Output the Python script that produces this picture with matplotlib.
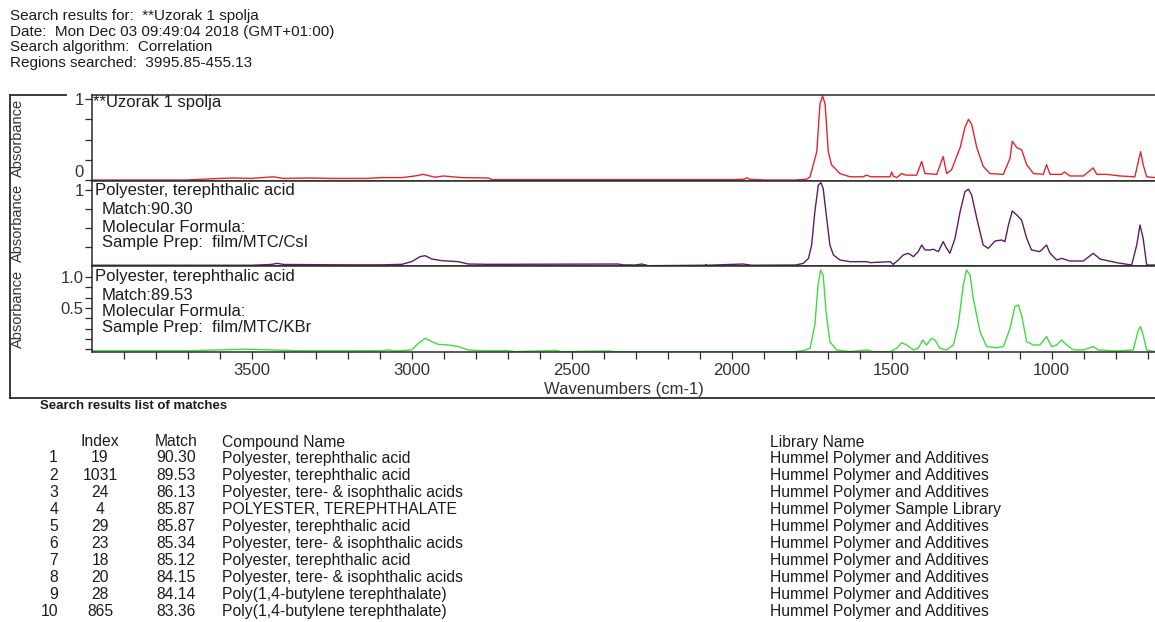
import matplotlib
matplotlib.use("Agg")
import matplotlib.pyplot as plt
from matplotlib.lines import Line2D

plt.rcParams['font.family'] = ['Liberation Sans', 'DejaVu Sans']

# search report header
header_lines = [
    "Search results for:  **Uzorak 1 spolja",
    "Date:  Mon Dec 03 09:49:04 2018 (GMT+01:00)",
    "Search algorithm:  Correlation",
    "Regions searched:  3995.85-455.13",
]

# sample spectrum (wavenumber, absorbance)
sample_wn = [3999, 3704, 3600, 3558, 3500, 3433, 3402, 3319, 3250, 3142, 3094, 3031,
             2990, 2964, 2927, 2901, 2844, 2760, 2750, 2400, 2000, 1960, 1953, 1945,
             1896, 1800, 1766, 1755, 1734, 1724, 1716, 1708, 1698, 1688, 1662, 1630,
             1590, 1578, 1565, 1505, 1500, 1495, 1484, 1469, 1455, 1443, 1422, 1406,
             1396, 1359, 1339, 1328, 1313, 1286, 1271, 1260, 1250, 1234, 1214, 1193,
             1151, 1130, 1123, 1109, 1094, 1078, 1057, 1026, 1016, 1005, 969, 960,
             943, 901, 870, 859, 828, 786, 740, 729, 722, 714, 703, 677]
sample_abs = [0.0, 0.0, 0.02, 0.025, 0.02, 0.04, 0.02, 0.025, 0.02, 0.02, 0.03, 0.03,
              0.05, 0.07, 0.035, 0.05, 0.03, 0.025, 0.005, 0.005, 0.005, 0.01, 0.03, 0.01,
              0.0, 0.0, 0.01, 0.04, 0.35, 0.94, 1.04, 0.94, 0.35, 0.19, 0.08, 0.04,
              0.04, 0.06, 0.04, 0.04, 0.1, 0.05, 0.03, 0.08, 0.06, 0.06, 0.06, 0.23,
              0.08, 0.07, 0.29, 0.08, 0.125, 0.40, 0.65, 0.75, 0.69, 0.40, 0.17, 0.08,
              0.07, 0.27, 0.48, 0.40, 0.375, 0.19, 0.08, 0.07, 0.19, 0.07, 0.07, 0.10,
              0.05, 0.05, 0.15, 0.07, 0.07, 0.05, 0.04, 0.23, 0.35, 0.19, 0.04, 0.03]

# library hit 1 (CsI)
hit1_wn = [3999, 3500, 3440, 3420, 3400, 3200, 3094, 3031, 3000, 2974, 2958, 2937,
           2906, 2854, 2823, 2760, 2354, 2340, 2300, 2281, 2260, 2083, 2080, 2075,
           1964, 1937, 1800, 1776, 1760, 1750, 1740, 1729, 1721, 1714, 1703, 1693,
           1682, 1662, 1630, 1578, 1567, 1505, 1495, 1479, 1464, 1448, 1432, 1417,
           1406, 1396, 1380, 1370, 1354, 1339, 1328, 1318, 1302, 1286, 1271, 1260,
           1250, 1234, 1214, 1198, 1177, 1156, 1146, 1135, 1123, 1109, 1094, 1078,
           1063, 1037, 1016, 1005, 984, 969, 943, 901, 870, 849, 797, 750,
           734, 724, 714, 703, 677]
hit1_abs = [0.01, 0.01, 0.02, 0.035, 0.02, 0.015, 0.015, 0.022, 0.057, 0.123, 0.136, 0.092,
            0.07, 0.057, 0.026, 0.022, 0.026, 0.015, 0.013, 0.026, 0.004, 0.01, 0.02, 0.01,
            0.026, 0.01, 0.013, 0.035, 0.10, 0.276, 0.715, 1.066, 1.096, 1.02, 0.627, 0.276,
            0.145, 0.079, 0.057, 0.057, 0.044, 0.057, 0.022, 0.079, 0.145, 0.167, 0.123, 0.189,
            0.276, 0.211, 0.211, 0.22, 0.189, 0.32, 0.232, 0.167, 0.364, 0.715, 0.978, 1.01,
            0.934, 0.627, 0.276, 0.232, 0.329, 0.342, 0.32, 0.54, 0.724, 0.671, 0.605, 0.364,
            0.211, 0.189, 0.276, 0.167, 0.079, 0.10, 0.066, 0.066, 0.167, 0.092, 0.044, 0.013,
            0.276, 0.54, 0.364, 0.013, 0.013]

# library hit 2 (KBr)
hit2_wn = [3999, 3700, 3600, 3520, 3450, 3350, 3200, 3094, 3073, 3052, 3000, 2979,
           2958, 2937, 2917, 2885, 2854, 2823, 2781, 2698, 2677, 2573, 2552, 2531,
           2385, 2365, 1800, 1776, 1755, 1740, 1730, 1722, 1714, 1705, 1693, 1672,
           1630, 1578, 1557, 1505, 1484, 1469, 1453, 1432, 1417, 1403, 1391, 1375,
           1365, 1349, 1328, 1307, 1292, 1276, 1266, 1255, 1245, 1224, 1203, 1172,
           1151, 1130, 1115, 1104, 1094, 1078, 1057, 1037, 1016, 1000, 984, 969,
           953, 932, 901, 870, 854, 797, 745, 729, 722, 714, 703, 677]
hit2_abs = [-0.19, -0.19, -0.175, -0.165, -0.175, -0.19, -0.19, -0.188, -0.177, -0.193, -0.177, -0.07,
            0.011, -0.043, -0.086, -0.097, -0.124, -0.177, -0.188, -0.188, -0.204, -0.188, -0.183, -0.204,
            -0.193, -0.204, -0.204, -0.188, -0.15, 0.226, 0.871, 1.113, 1.032, 0.441, -0.043, -0.177,
            -0.204, -0.177, -0.204, -0.204, -0.15, -0.06, -0.097, -0.177, -0.15, -0.016, -0.097, 0.011,
            -0.016, -0.15, -0.177, -0.097, 0.226, 0.871, 1.113, 1.032, 0.656, 0.118, -0.124, -0.14,
            -0.124, 0.172, 0.522, 0.548, 0.387, -0.043, -0.097, -0.097, 0.038, -0.124, -0.097, -0.016,
            -0.097, -0.177, -0.177, -0.124, -0.177, -0.193, -0.177, 0.145, 0.199, 0.065, -0.177, -0.204]

# hit list
row_no = ["1", "2", "3", "4", "5", "6", "7", "8", "9", "10"]
hit_index = ["19", "1031", "24", "4", "29", "23", "18", "20", "28", "865"]
hit_match = ["90.30", "89.53", "86.13", "85.87", "85.87", "85.34", "85.12", "84.15", "84.14", "83.36"]
compound = ["Polyester, terephthalic acid", "Polyester, terephthalic acid",
            "Polyester, tere- & isophthalic acids", "POLYESTER, TEREPHTHALATE",
            "Polyester, terephthalic acid", "Polyester, tere- & isophthalic acids",
            "Polyester, terephthalic acid", "Polyester, tere- & isophthalic acids",
            "Poly(1,4-butylene terephthalate)", "Poly(1,4-butylene terephthalate)"]
library = ["Hummel Polymer and Additives"] * 3 + ["Hummel Polymer Sample Library"] + \
          ["Hummel Polymer and Additives"] * 6

W, H = 1155, 622
fig = plt.figure(figsize=(W / 100, H / 100), dpi=100)
fig.patch.set_facecolor('white')
ink = '#1c1c1c'
axc = '#2a2a2a'


def fx(x):
    return x / W


def fy(y):
    return 1 - y / H


for i, line in enumerate(header_lines):
    fig.text(fx(10), fy(16 + 15.7 * i), line, fontsize=11, color=ink, va='center')

# outer frame round the plot
frame_kw = dict(transform=fig.transFigure, color=axc, lw=1.3)
fig.add_artist(Line2D([fx(10), fx(66)], [fy(95), fy(95)], **frame_kw))
fig.add_artist(Line2D([fx(10), fx(10)], [fy(95), fy(398)], **frame_kw))
fig.add_artist(Line2D([fx(10), 1.0], [fy(398), fy(398)], **frame_kw))

panels = [(95, 181), (181, 266), (266, 352)]
series = [(sample_wn, sample_abs, '#e3262e'),
          (hit1_wn, hit1_abs, '#5c1d62'),
          (hit2_wn, hit2_abs, '#3fdc3f')]
ylims = [(-0.012, 1.05), (0.0, 1.118), (-0.21, 1.177)]

axes = []
for (top, bot), (wn, ab, col), yl in zip(panels, series, ylims):
    ax = fig.add_axes([fx(92), fy(bot), 1 - fx(92), (bot - top) / H])
    ax.plot(wn, ab, color=col, lw=1.0)
    ax.set_xlim(3999, 677)
    ax.set_ylim(*yl)
    ax.spines['right'].set_visible(False)
    for s in ['top', 'bottom', 'left']:
        ax.spines[s].set_color(axc)
        ax.spines[s].set_linewidth(1.1)
    ax.tick_params(which='both', direction='out', length=5, width=0.9,
                   color=axc, labelcolor='#333333', labelsize=12, pad=1)
    axes.append(ax)

# top panel
ax = axes[0]
ax.set_xticks([])
ax.set_yticks([0, 1])
ax.set_yticklabels(['0', '1'])
ax.set_yticks([0.25, 0.5, 0.75], minor=True)
ax.get_yticklabels()[0].set_va('bottom')

# middle panel
ax = axes[1]
ax.set_xticks([])
ax.set_yticks([1])
ax.set_yticklabels(['1'])
ax.set_yticks([0.25, 0.5, 0.75], minor=True)

# bottom panel
ax = axes[2]
ax.set_yticks([0.5, 1.0])
ax.set_yticklabels(['0.5', '1.0'])
ax.set_yticks([0.833, 0.667, 0.333, 0.167, 0.0, -0.167], minor=True)
ax.set_xticks([3500, 3000, 2500, 2000, 1500, 1000])
ax.set_xticks([w for w in range(3900, 600, -100) if w % 500], minor=True)
ax.tick_params(axis='x', pad=3)
ax.set_xlabel('Wavenumbers (cm-1)', fontsize=12, color='#333333', labelpad=3)

for yc in [138, 223, 309]:
    fig.text(fx(18), fy(yc), 'Absorbance', rotation=90, fontsize=10.5,
             color='#333333', ha='center', va='center')

# panel captions
fig.text(fx(93), fy(103), '**Uzorak 1 spolja', fontsize=12, color=ink, va='center')
fig.text(fx(95), fy(191), 'Polyester, terephthalic acid', fontsize=12, color=ink, va='center')
fig.text(fx(102), fy(210), 'Match:' + hit_match[0], fontsize=12, color=ink, va='center')
fig.text(fx(102), fy(227), 'Molecular Formula:', fontsize=12, color=ink, va='center')
fig.text(fx(102), fy(243), 'Sample Prep:  film/MTC/CsI', fontsize=12, color=ink, va='center')
fig.text(fx(95), fy(276), 'Polyester, terephthalic acid', fontsize=12, color=ink, va='center')
fig.text(fx(102), fy(295), 'Match:' + hit_match[1], fontsize=12, color=ink, va='center')
fig.text(fx(102), fy(312), 'Molecular Formula:', fontsize=12, color=ink, va='center')
fig.text(fx(102), fy(328), 'Sample Prep:  film/MTC/KBr', fontsize=12, color=ink, va='center')

# hit list table
fig.text(fx(40), fy(406), 'Search results list of matches', fontsize=9.5,
         fontweight='bold', color=ink, va='center')
tkw = dict(fontsize=11.3, color=ink, va='center')
fig.text(fx(100), fy(442), 'Index', ha='center', **tkw)
fig.text(fx(176), fy(442), 'Match', ha='center', **tkw)
fig.text(fx(222), fy(442), 'Compound Name', ha='left', **tkw)
fig.text(fx(770), fy(442), 'Library Name', ha='left', **tkw)
for i in range(len(row_no)):
    y = fy(458 + 17.1 * i)
    fig.text(fx(58), y, row_no[i], ha='right', **tkw)
    fig.text(fx(100), y, hit_index[i], ha='center', **tkw)
    fig.text(fx(176), y, hit_match[i], ha='center', **tkw)
    fig.text(fx(222), y, compound[i], ha='left', **tkw)
    fig.text(fx(770), y, library[i], ha='left', **tkw)

fig.savefig('out.png', dpi=100, facecolor='white')
